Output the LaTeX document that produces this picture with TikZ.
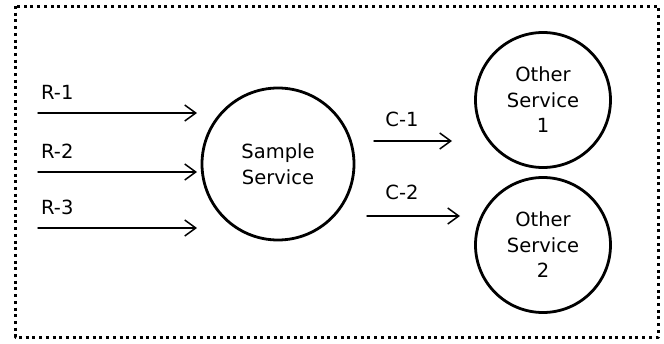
\documentclass[tikz,border=0pt]{standalone}
\usepackage{fontspec}
\setmainfont{DejaVu Sans}
\usetikzlibrary{arrows.meta}

\begin{document}
\begin{tikzpicture}[
	x=1pt,
	y=-1pt,
	line cap=round,
	line join=round,
	>={Straight Barb[length=11pt,width=16pt]},
	every node/.style={align=center, font=\fontsize{19.5}{25.5}\selectfont},
	service/.style={
		shape=circle,
		line width=2.8pt,
		draw,
		inner sep=0pt,
		text centered
	},
	call/.style={line width=1.5pt, ->},
	boundary/.style={line width=3pt, line cap=butt, dash pattern=on 3pt off 3.7pt}
	]
	\useasboundingbox (0,0) rectangle (664,343);
	\draw [boundary] (15,6) rectangle (658,337);
	% services
	\node [service, minimum size=152pt] (sample) at (278,164) {Sample\\Service};
	\node [service, minimum size=135pt] (other1) at (543,100) {Other\\Service\\1};
	\node [service, minimum size=135pt] (other2) at (543,245) {Other\\Service\\2};
	% incoming requests
	\foreach \y [count=\i] in {113,172,228}{
		\coordinate (r\i start) at (38,\y);
		\coordinate (r\i end) at (197,\y);
		\node [anchor=west, inner sep=0pt] (r\i label) at (41,\y-21) {R-\i};
		\draw [call] (r\i start) -- (r\i end);
	}
	% outgoing calls
	\coordinate (c1 start) at (374,141);
	\coordinate (c1 end) at (452,141);
	\coordinate (c2 start) at (367,216);
	\coordinate (c2 end) at (460,216);
	\node (c1 label) at (402,119) {C-1};
	\node (c2 label) at (402,192) {C-2};
	\draw [call] (c1 start) -- (c1 end);
	\draw [call] (c2 start) -- (c2 end);
\end{tikzpicture}
\end{document}
